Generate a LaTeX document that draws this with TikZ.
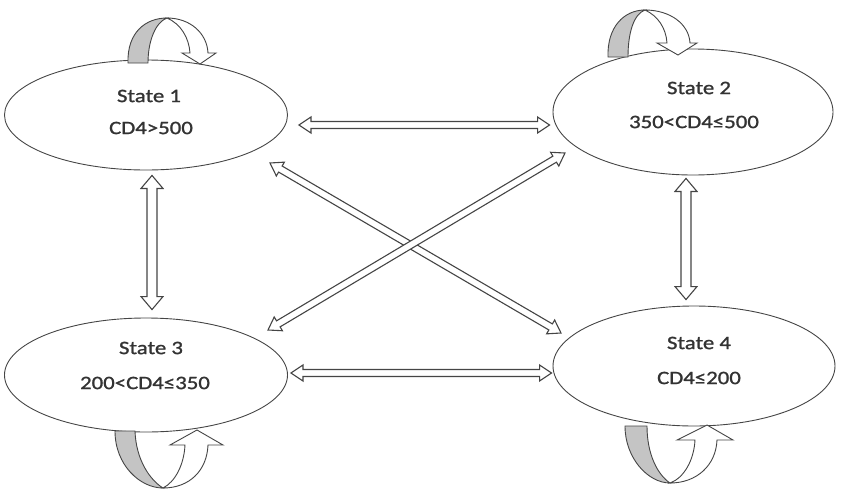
\documentclass[tikz,border=0pt]{standalone}
\usepackage{fontspec}
\usetikzlibrary{shapes.geometric,calc}
\newfontfamily\lblfont[FakeStretch=1.2,FakeBold=1.2]{Carlito}
\definecolor{ln}{HTML}{454545}
\definecolor{txt}{HTML}{333333}
\definecolor{band}{HTML}{C4C4C4}
% hollow double-headed arrow: #1 start, #2 end, #3 half shaft, #4 half head, #5 head length
\newcommand{\hollowarrow}[5]{%
  \draw[arr] let \p1=#1, \p2=#2, \n1={atan2(\y2-\y1,\x2-\x1)}, \n2={veclen(\x2-\x1,\y2-\y1)} in
    {[shift={(\p1)}, rotate=\n1]
     (0pt,0pt) -- (#5,#4) -- (#5,#3) -- ({\n2-#5},#3) -- ({\n2-#5},#4) -- (\n2,0pt)
     -- ({\n2-#5},-#4) -- ({\n2-#5},-#3) -- (#5,-#3) -- (#5,-#4) -- cycle};}
\begin{document}
\begin{tikzpicture}[x=1pt,y=-1pt,
  state/.style={ellipse, draw=ln, line width=0.9pt, inner sep=0pt},
  lbl/.style={font=\lblfont\fontsize{19}{22}\selectfont, text=txt, inner sep=0pt},
  arr/.style={draw=ln, line width=1.1pt, fill=white, line join=miter},
  bandshape/.style={draw=ln, line width=0.9pt, fill=band},
  ribbon/.style={draw=ln, line width=0.9pt, fill=white, line join=miter}]
\useasboundingbox (0,0) rectangle (841,493);

% states
\node[state, minimum width=283pt, minimum height=110pt] (s1) at (146,115) {};
\node[state, minimum width=280pt, minimum height=126pt] (s2) at (693,112) {};
\node[state, minimum width=283pt, minimum height=114pt] (s3) at (146,375) {};
\node[state, minimum width=282pt, minimum height=120pt] (s4) at (694,366) {};

% labels
\node[lbl] (s1a) at (149,96) {State 1};
\node[lbl] (s1b) at (151,128) {CD4>500};
\node[lbl] (s2a) at (699,88) {State 2};
\node[lbl] (s2b) at (694,122) {350<CD4≤500};
\node[lbl] (s3a) at (151,348) {State 3};
\node[lbl] (s3b) at (145,383) {200<CD4≤350};
\node[lbl] (s4a) at (699,343) {State 4};
\node[lbl] (s4b) at (699,378) {CD4≤200};

% transitions between states
\hollowarrow{($(s1.east)+(11,10)$)}{($(s2.west)+(-3,13)$)}{3.5pt}{8pt}{12pt}
\hollowarrow{($(s3.east)+(3,-2)$)}{($(s4.west)+(-1,7)$)}{3.5pt}{8pt}{12pt}
\hollowarrow{($(s1.south)+(6,5)$)}{($(s3.north)+(6,-8)$)}{5pt}{11pt}{13pt}
\hollowarrow{($(s2.south)+(-7,3)$)}{($(s4.north)+(-8,-6)$)}{5pt}{11pt}{13pt}
\hollowarrow{($(s1.center)+(124,48)$)}{($(s4.center)+(-133,-33)$)}{3.5pt}{8pt}{12pt}
\hollowarrow{($(s3.center)+(122,-45)$)}{($(s2.center)+(-128,41)$)}{3.5pt}{8pt}{12pt}

% self loop State 1
\draw[bandshape] (128,63) .. controls (127,32) and (146,18) .. (167,18)
   .. controls (156,22) and (148,40) .. (148,63) -- cycle;
\draw[ribbon] (167,18) .. controls (190,18) and (207,33) .. (208,53) -- (216,53) -- (200,64)
   -- (182,53) -- (190,53) .. controls (189,38) and (181,24) .. (167,18) -- cycle;

% self loop State 2
\draw[bandshape] (608,57) .. controls (607,27) and (624,10) .. (645,10)
   .. controls (634,14) and (628,32) .. (628,57) -- cycle;
\draw[ribbon] (645,10) .. controls (670,10) and (689,24) .. (690,43) -- (697,43) -- (678,55)
   -- (657,43) -- (667,43) .. controls (666,28) and (658,16) .. (645,10) -- cycle;

% self loop State 3
\draw[bandshape] (115,431) .. controls (115,465) and (140,488) .. (163,488)
   .. controls (150,480) and (136,460) .. (135,431) -- cycle;
\draw[ribbon] (163,488) .. controls (190,488) and (207,470) .. (208,445) -- (223,445) -- (197,430)
   -- (170,445) -- (185,445) .. controls (184,465) and (175,482) .. (163,488) -- cycle;

% self loop State 4
\draw[bandshape] (625,426) .. controls (625,458) and (648,483) .. (670,483)
   .. controls (658,475) and (647,455) .. (647,426) -- cycle;
\draw[ribbon] (670,483) .. controls (697,483) and (716,465) .. (717,440) -- (733,440) -- (707,425)
   -- (677,440) -- (695,440) .. controls (694,460) and (684,478) .. (670,483) -- cycle;
\end{tikzpicture}
\end{document}
